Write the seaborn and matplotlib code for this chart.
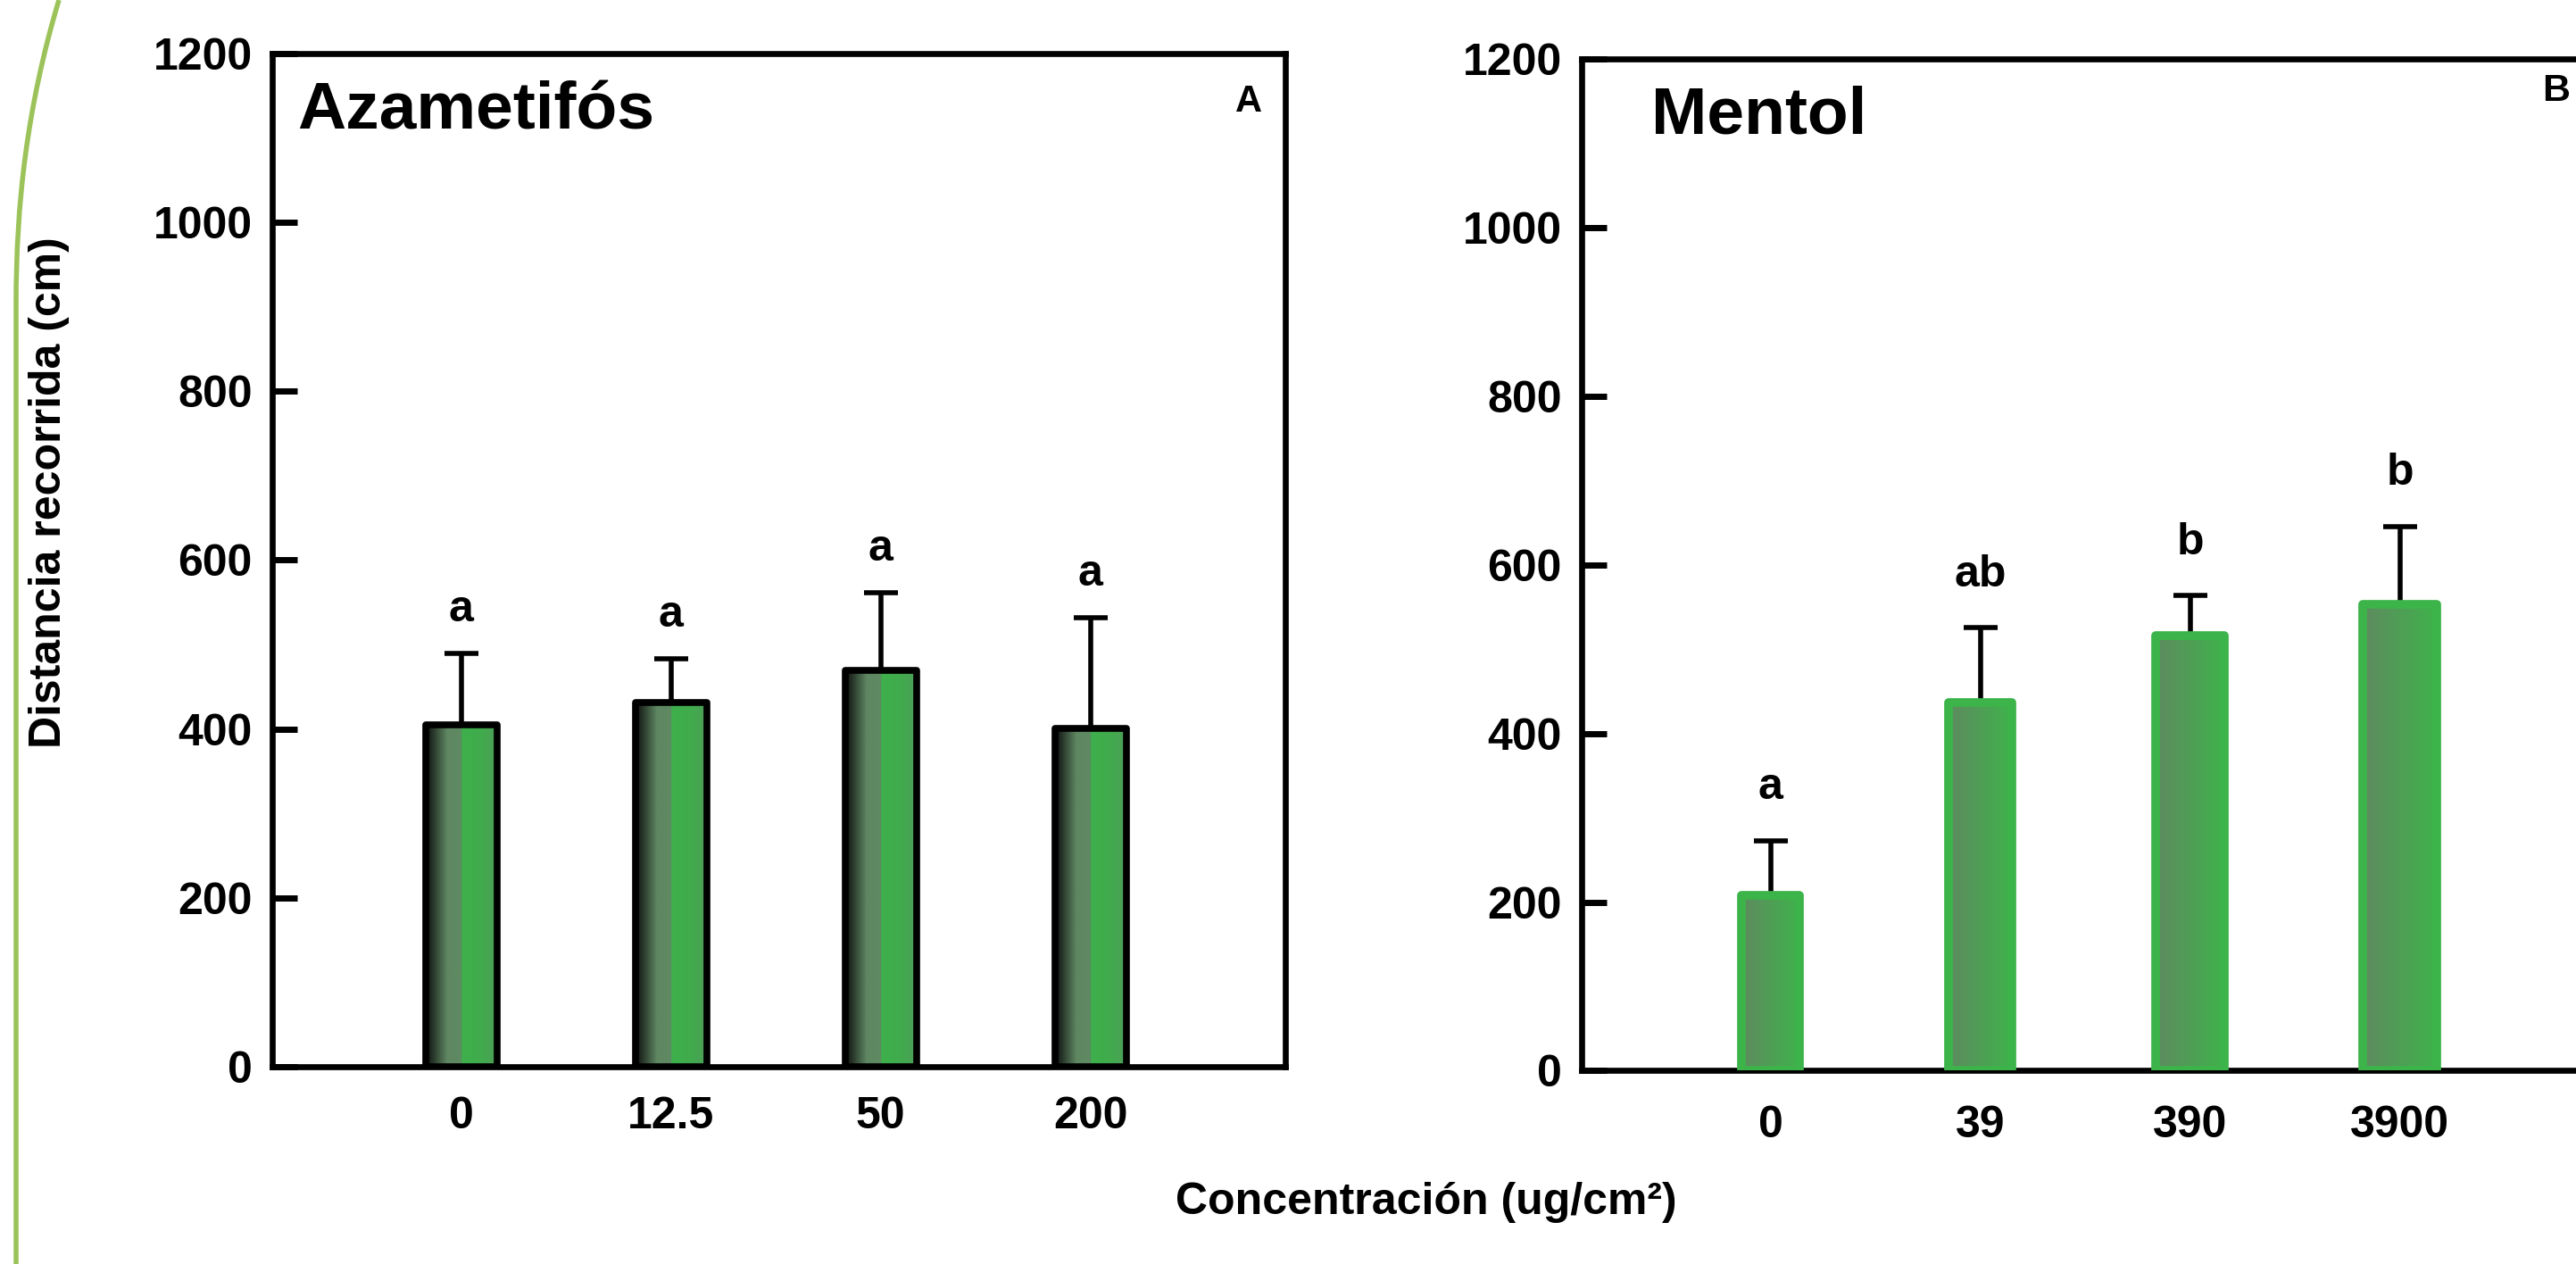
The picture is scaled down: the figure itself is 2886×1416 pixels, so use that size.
import numpy as np
import pandas as pd
import matplotlib
matplotlib.use("Agg")
import matplotlib.pyplot as plt
from matplotlib.colors import LinearSegmentedColormap
from matplotlib.path import Path
from matplotlib.patches import PathPatch
import seaborn as sns

# Data (distance travelled, cm)
azam_conc = ['0', '12.5', '50', '200']
azam_mean = [405, 431, 469, 401]
azam_err = [84, 52, 92, 131]
azam_letters = ['a', 'a', 'a', 'a']

mentol_conc = ['0', '39', '390', '3900']
mentol_mean = [208, 437, 516, 553]
mentol_err = [65, 88, 47, 92]
mentol_letters = ['a', 'ab', 'b', 'b']

sns.set_style("white")
plt.rcParams['font.family'] = ['Liberation Sans', 'DejaVu Sans']
plt.rcParams['font.weight'] = 'bold'
plt.rcParams['axes.edgecolor'] = 'black'
plt.rcParams['text.color'] = 'black'
plt.rcParams['axes.labelcolor'] = 'black'
plt.rcParams['xtick.color'] = 'black'
plt.rcParams['ytick.color'] = 'black'

# gradient fills for the bars
azam_cmap = LinearSegmentedColormap.from_list('azam', [
    (0.0, '#0d0d0d'), (0.3, '#5e8762'), (0.5, '#5f8a62'),
    (0.505, '#3db04b'), (0.8, '#41aa4d'), (1.0, '#4e9e58')])
mentol_cmap = LinearSegmentedColormap.from_list('mentol', [
    (0.0, '#5f8a60'), (1.0, '#3fb24b')])


def draw_panel(ax, conc, mean, err, letters, cmap, widths, edgecolor, edge_lw, letter_off):
    df = pd.DataFrame({'conc': conc, 'mean': mean})
    sns.barplot(data=df, x='conc', y='mean', order=conc, color='white',
                width=0.35, errorbar=None, ax=ax)
    grad = np.linspace(0, 1, 256).reshape(1, -1)
    for i, p in enumerate(ax.patches):
        w = widths[i]
        p.set_x(i - w / 2)
        p.set_width(w)
        p.set_facecolor('none')
        p.set_edgecolor(edgecolor)
        p.set_linewidth(edge_lw)
        p.set_joinstyle('round')
        p.set_zorder(3)
        im = ax.imshow(grad, cmap=cmap, aspect='auto', zorder=2,
                       extent=[i - w / 2, i + w / 2, 0, p.get_height()])
        im.set_clip_path(p)
    x = np.arange(len(mean))
    ax.errorbar(x, mean, yerr=[np.zeros(len(err)), err], fmt='none',
                ecolor='black', elinewidth=4, capsize=14, capthick=4, zorder=2.5)
    for i, (m, e, lab) in enumerate(zip(mean, err, letters)):
        ax.text(i, m + e + letter_off, lab, ha='center', va='center',
                fontsize=36, fontweight='bold')
    ax.set_xlim(-0.9, 3.93)
    ax.set_ylim(0, 1200)
    ax.set_yticks([0, 200, 400, 600, 800, 1000, 1200])
    ax.set_xlabel('')
    ax.set_ylabel('')
    ax.tick_params(axis='y', left=True, direction='in', length=20, width=5,
                   pad=16, labelsize=36, color='black')
    ax.tick_params(axis='x', bottom=False, length=0, pad=24, labelsize=36)
    for lab in ax.get_xticklabels() + ax.get_yticklabels():
        lab.set_fontweight('bold')
    for s in ax.spines.values():
        s.set_visible(True)
        s.set_linewidth(4.8)
        s.set_color('black')


fig = plt.figure(figsize=(28.86, 14.16), dpi=100)
ax1 = fig.add_axes([0.1057, 0.1561, 0.3933, 0.8016])
ax2 = fig.add_axes([0.614, 0.1529, 0.3933, 0.8008])

draw_panel(ax1, azam_conc, azam_mean, azam_err, azam_letters, azam_cmap,
           [0.34] * 4, 'black', 5.5, 52)
draw_panel(ax2, mentol_conc, mentol_mean, mentol_err, mentol_letters, mentol_cmap,
           [0.28, 0.30, 0.33, 0.35], '#3cb44a', 7, 63)
ax2.tick_params(axis='x', pad=28)

ax1.text(0.0247, 0.943, 'Azametifós', transform=ax1.transAxes, ha='left', va='center',
         fontsize=54, fontweight='bold')
ax2.text(0.0687, 0.943, 'Mentol', transform=ax2.transAxes, ha='left', va='center',
         fontsize=54, fontweight='bold')
ax1.text(0.964, 0.952, 'A', transform=ax1.transAxes, ha='center', va='center',
         fontsize=30, fontweight='bold')
ax2.text(0.962, 0.968, 'B', transform=ax2.transAxes, ha='center', va='center',
         fontsize=31, fontweight='bold')

fig.text(55 / 2886, 1 - 552 / 1416, 'Distancia recorrida (cm)', rotation=90,
         ha='center', va='center', fontsize=36, fontweight='bold')
fig.text(1598 / 2886, 1 - 1347 / 1416, 'Concentración (ug/cm²)',
         ha='center', va='center', fontsize=36, fontweight='bold')

# light green border curve on the left of the slide
verts = [(66 / 2886, 1.0), (30 / 2886, 1 - 120 / 1416), (18 / 2886, 1 - 230 / 1416),
         (18 / 2886, 1 - 340 / 1416), (18 / 2886, 0.0)]
codes = [Path.MOVETO, Path.CURVE4, Path.CURVE4, Path.CURVE4, Path.LINETO]
fig.patches.append(PathPatch(Path(verts, codes), transform=fig.transFigure,
                             fill=False, edgecolor='#9cc35a', lw=4))

fig.savefig('out.png', dpi=100)
